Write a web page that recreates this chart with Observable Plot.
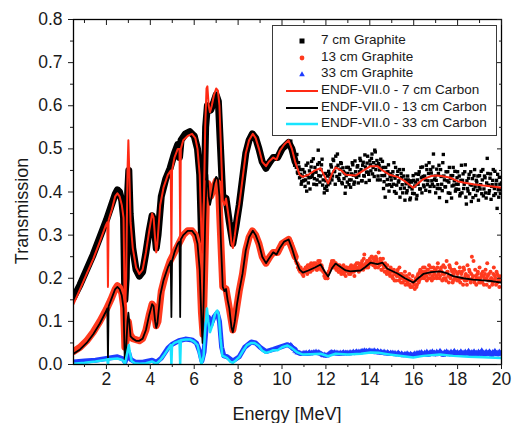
<!DOCTYPE html>
<html><head><meta charset="utf-8">
<script src="https://cdn.jsdelivr.net/npm/d3@7"></script>
<script src="https://cdn.jsdelivr.net/npm/@observablehq/plot@0.6"></script>
<style>
body{margin:0;background:#fff;}
#wrap{position:relative;width:512px;height:423px;font-family:"Liberation Sans",Arial,sans-serif;color:#1a1a1a;}
.title{position:absolute;font-size:18px;white-space:nowrap;transform:translate(-50%,-50%);}
#legend{position:absolute;left:272px;top:25px;width:225px;height:111px;border:1px solid #3a3a3a;background:#fff;box-sizing:border-box;}
.row{position:absolute;left:0;height:16px;width:224px;}
.row svg{position:absolute;left:0;top:0;}
.row span{position:absolute;left:48px;top:-1px;font-size:13.5px;line-height:16px;white-space:nowrap;}
</style></head>
<body><div id="wrap"></div>
<script>
// ---- data ----
const xMajor = [2,4,6,8,10,12,14,16,18,20];
const xMinor = [1,3,5,7,9,11,13,15,17,19];
const yMajor = [0,0.1,0.2,0.3,0.4,0.5,0.6,0.7,0.8];
const yMinor = [0.05,0.15,0.25,0.35,0.45,0.55,0.65,0.75];

// ENDF-VII.0 calculations [energy MeV, transmission]
const endf7 = [[0.5,0.14],[0.8,0.175],[1.1,0.21],[1.4,0.245],[1.7,0.285],[1.95,0.32],[2.04,0.33],[2.07,0.18],[2.1,0.335],[2.25,0.36],[2.4,0.39],[2.5,0.397],[2.6,0.39],[2.7,0.37],[2.78,0.34],[2.84,0.1],[2.9,0.2],[2.96,0.45],[3.0,0.52],[3.04,0.45],[3.1,0.33],[3.2,0.27],[3.35,0.225],[3.5,0.21],[3.65,0.22],[3.8,0.26],[3.95,0.31],[4.08,0.35],[4.15,0.34],[4.22,0.29],[4.27,0.26],[4.32,0.28],[4.45,0.37],[4.6,0.41],[4.8,0.44],[4.93,0.45],[4.96,0.26],[4.99,0.45],[5.1,0.48],[5.25,0.5],[5.33,0.5],[5.36,0.3],[5.39,0.5],[5.5,0.52],[5.7,0.53],[5.9,0.535],[6.05,0.525],[6.15,0.5],[6.25,0.44],[6.33,0.3],[6.38,0.26],[6.43,0.35],[6.5,0.55],[6.56,0.64],[6.6,0.645],[6.66,0.6],[6.72,0.585],[6.8,0.6],[6.9,0.625],[7.0,0.64],[7.08,0.635],[7.15,0.6],[7.22,0.5],[7.3,0.38],[7.38,0.37],[7.45,0.385],[7.52,0.36],[7.6,0.33],[7.7,0.28],[7.76,0.27],[7.85,0.3],[7.95,0.34],[8.05,0.37],[8.2,0.43],[8.35,0.49],[8.5,0.52],[8.67,0.535],[8.8,0.525],[8.95,0.5],[9.1,0.47],[9.27,0.46],[9.4,0.47],[9.6,0.48],[9.75,0.475],[9.9,0.495],[10.1,0.51],[10.3,0.52],[10.45,0.5],[10.6,0.47],[10.8,0.44],[10.95,0.435],[11.2,0.44],[11.5,0.45],[11.76,0.455],[11.95,0.435],[12.1,0.42],[12.3,0.445],[12.44,0.457],[12.7,0.45],[12.9,0.44],[13.35,0.438],[13.72,0.45],[14.03,0.46],[14.35,0.46],[14.58,0.45],[14.9,0.44],[15.26,0.435],[15.6,0.425],[15.98,0.41],[16.2,0.42],[16.44,0.43],[16.8,0.437],[17.07,0.438],[17.4,0.436],[17.67,0.433],[18.0,0.425],[18.26,0.422],[18.7,0.418],[19.17,0.415],[19.6,0.413],[20,0.41]];

const endf13 = [[0.5,0.025],[0.8,0.035],[1.1,0.05],[1.4,0.07],[1.7,0.095],[1.95,0.12],[2.04,0.13],[2.07,0.01],[2.1,0.135],[2.25,0.155],[2.4,0.175],[2.5,0.18],[2.6,0.175],[2.7,0.16],[2.78,0.13],[2.84,0.003],[2.9,0.04],[2.96,0.1],[3.0,0.12],[3.04,0.1],[3.1,0.065],[3.2,0.06],[3.35,0.055],[3.5,0.055],[3.65,0.06],[3.8,0.08],[3.95,0.115],[4.08,0.14],[4.15,0.135],[4.22,0.1],[4.27,0.085],[4.32,0.095],[4.45,0.16],[4.6,0.195],[4.8,0.225],[4.93,0.24],[4.96,0.11],[4.99,0.24],[5.1,0.26],[5.25,0.28],[5.33,0.285],[5.36,0.11],[5.39,0.29],[5.5,0.3],[5.7,0.31],[5.9,0.31],[6.05,0.3],[6.15,0.28],[6.25,0.22],[6.33,0.1],[6.38,0.05],[6.43,0.15],[6.5,0.33],[6.56,0.43],[6.6,0.44],[6.66,0.39],[6.72,0.37],[6.8,0.39],[6.9,0.42],[7.0,0.435],[7.08,0.43],[7.15,0.39],[7.22,0.28],[7.3,0.18],[7.38,0.17],[7.45,0.175],[7.52,0.15],[7.6,0.13],[7.7,0.085],[7.76,0.075],[7.85,0.1],[7.95,0.14],[8.05,0.17],[8.2,0.21],[8.35,0.265],[8.5,0.295],[8.67,0.31],[8.8,0.3],[8.95,0.28],[9.1,0.25],[9.27,0.235],[9.4,0.245],[9.6,0.26],[9.75,0.255],[9.9,0.27],[10.1,0.285],[10.3,0.29],[10.45,0.27],[10.6,0.245],[10.8,0.22],[10.95,0.213],[11.2,0.218],[11.5,0.225],[11.76,0.232],[11.95,0.215],[12.1,0.204],[12.3,0.225],[12.44,0.234],[12.7,0.225],[12.9,0.218],[13.12,0.216],[13.58,0.218],[13.8,0.226],[14.03,0.236],[14.35,0.233],[14.58,0.236],[14.8,0.222],[15.26,0.211],[15.6,0.2],[15.98,0.19],[16.2,0.2],[16.44,0.21],[16.8,0.214],[17.2,0.216],[17.5,0.212],[17.8,0.205],[18.26,0.2],[18.7,0.197],[19.17,0.195],[19.6,0.193],[20,0.19]];

const endf33 = [[0.5,0.002],[1.0,0.004],[1.5,0.007],[2.0,0.011],[2.04,0.012],[2.07,0.0],[2.1,0.012],[2.5,0.014],[2.7,0.011],[2.78,0.008],[2.84,0.0],[2.96,0.03],[3.02,0.045],[3.06,0.03],[3.15,0.008],[3.3,0.003],[3.5,0.002],[3.8,0.003],[4.08,0.007],[4.2,0.004],[4.27,0.002],[4.45,0.01],[4.6,0.02],[4.8,0.035],[4.93,0.045],[4.96,0.0],[4.99,0.045],[5.1,0.05],[5.33,0.055],[5.36,0.0],[5.39,0.056],[5.6,0.058],[5.8,0.058],[6.0,0.053],[6.15,0.045],[6.25,0.02],[6.33,0.0],[6.43,0.02],[6.5,0.08],[6.58,0.13],[6.64,0.1],[6.72,0.075],[6.82,0.09],[6.95,0.118],[7.05,0.125],[7.12,0.115],[7.2,0.06],[7.28,0.02],[7.4,0.018],[7.5,0.015],[7.65,0.006],[7.76,0.004],[7.9,0.01],[8.05,0.017],[8.2,0.03],[8.4,0.045],[8.6,0.05],[8.75,0.05],[8.95,0.043],[9.1,0.032],[9.27,0.027],[9.45,0.03],[9.6,0.033],[9.8,0.033],[10.0,0.04],[10.25,0.044],[10.45,0.038],[10.7,0.028],[10.95,0.023],[11.3,0.024],[11.76,0.025],[12.1,0.019],[12.44,0.025],[13.0,0.023],[13.6,0.025],[14.03,0.028],[14.4,0.027],[14.8,0.024],[15.26,0.021],[15.98,0.016],[16.44,0.02],[17.2,0.023],[17.8,0.02],[18.5,0.018],[19.17,0.017],[20,0.015]];

// Measured graphite, densely sampled region below ~10.6 MeV [energy, transmission]
const meas7Low = [[0.5,0.155],[0.8,0.185],[1.1,0.22],[1.4,0.255],[1.7,0.295],[2.0,0.335],[2.2,0.365],[2.4,0.395],[2.5,0.405],[2.6,0.4],[2.7,0.38],[2.78,0.34],[2.84,0.15],[2.9,0.2],[2.97,0.4],[3.02,0.45],[3.08,0.35],[3.2,0.27],[3.35,0.22],[3.5,0.205],[3.65,0.215],[3.8,0.26],[3.95,0.31],[4.08,0.345],[4.15,0.335],[4.27,0.27],[4.35,0.3],[4.5,0.39],[4.7,0.43],[4.9,0.455],[5.1,0.49],[5.25,0.51],[5.33,0.48],[5.4,0.52],[5.6,0.535],[5.8,0.54],[6.0,0.53],[6.15,0.5],[6.25,0.44],[6.33,0.3],[6.4,0.27],[6.45,0.38],[6.52,0.55],[6.6,0.6],[6.75,0.59],[6.9,0.61],[7.0,0.625],[7.1,0.61],[7.2,0.5],[7.3,0.39],[7.45,0.385],[7.6,0.33],[7.76,0.28],[7.9,0.32],[8.05,0.37],[8.2,0.43],[8.35,0.49],[8.5,0.52],[8.65,0.535],[8.8,0.525],[8.95,0.5],[9.1,0.47],[9.27,0.455],[9.45,0.47],[9.6,0.48],[9.8,0.48],[10.0,0.5],[10.3,0.515],[10.45,0.5],[10.6,0.47]];
const meas13Low = [[0.5,0.03],[0.8,0.04],[1.1,0.055],[1.4,0.075],[1.7,0.1],[2.0,0.128],[2.2,0.15],[2.4,0.175],[2.5,0.183],[2.6,0.178],[2.7,0.165],[2.78,0.135],[2.84,0.04],[2.92,0.06],[3.0,0.1],[3.08,0.07],[3.2,0.06],[3.5,0.055],[3.65,0.06],[3.8,0.08],[3.95,0.115],[4.08,0.14],[4.15,0.135],[4.27,0.09],[4.35,0.1],[4.5,0.17],[4.7,0.21],[4.9,0.24],[5.1,0.26],[5.3,0.28],[5.5,0.3],[5.7,0.31],[5.9,0.31],[6.05,0.3],[6.15,0.28],[6.25,0.22],[6.33,0.12],[6.4,0.07],[6.47,0.2],[6.55,0.37],[6.62,0.42],[6.75,0.39],[6.9,0.41],[7.0,0.425],[7.1,0.42],[7.2,0.3],[7.3,0.18],[7.45,0.175],[7.6,0.13],[7.76,0.08],[7.9,0.12],[8.05,0.17],[8.2,0.21],[8.35,0.265],[8.5,0.295],[8.65,0.31],[8.8,0.3],[8.95,0.28],[9.1,0.25],[9.27,0.235],[9.45,0.25],[9.6,0.26],[9.8,0.26],[10.0,0.28],[10.3,0.29],[10.45,0.27],[10.6,0.25]];
const meas33Low = [[0.5,0.006],[1.0,0.008],[1.5,0.01],[2.0,0.014],[2.5,0.018],[2.75,0.013],[2.85,0.006],[3.0,0.03],[3.1,0.012],[3.3,0.006],[3.6,0.005],[4.08,0.01],[4.27,0.005],[4.5,0.015],[4.8,0.038],[5.0,0.047],[5.3,0.055],[5.6,0.059],[5.9,0.057],[6.1,0.05],[6.25,0.03],[6.35,0.008],[6.45,0.03],[6.55,0.09],[6.65,0.11],[6.75,0.09],[6.9,0.11],[7.05,0.12],[7.15,0.1],[7.25,0.04],[7.35,0.02],[7.5,0.018],[7.76,0.008],[8.05,0.018],[8.3,0.04],[8.6,0.052],[8.8,0.05],[9.0,0.04],[9.27,0.03],[9.6,0.035],[9.9,0.04],[10.25,0.046],[10.6,0.035]];

// Measured graphite above 10.4 MeV: energies and transmissions (two interleaved energy grids)
const energyHi = [10.40,10.45,10.50,10.55,10.60,10.65,10.70,10.75,10.80,10.85,10.90,10.95,
11.00,11.05,11.10,11.15,11.20,11.25,11.30,11.35,11.40,11.45,11.50,11.55,11.60,11.65,11.70,11.75,11.80,11.85,11.90,11.95,
12.00,12.05,12.10,12.15,12.20,12.25,12.30,12.35,12.40,12.45,12.50,12.55,12.60,12.65,12.70,12.75,12.80,12.85,12.90,12.95,
13.00,13.05,13.10,13.15,13.20,13.25,13.30,13.35,13.40,13.45,13.50,13.55,13.60,13.65,13.70,13.75,13.80,13.85,13.90,13.95,
14.00,14.05,14.10,14.15,14.20,14.25,14.30,14.35,14.40,14.45,14.50,14.55,14.60,14.65,14.70,14.75,14.80,14.85,14.90,14.95,
15.00,15.05,15.10,15.15,15.20,15.25,15.30,15.35,15.40,15.45,15.50,15.55,15.60,15.65,15.70,15.75,15.80,15.85,15.90,15.95,
16.00,16.05,16.10,16.15,16.20,16.25,16.30,16.35,16.40,16.45,16.50,16.55,16.60,16.65,16.70,16.75,16.80,16.85,16.90,16.95,
17.00,17.05,17.10,17.15,17.20,17.25,17.30,17.35,17.40,17.45,17.50,17.55,17.60,17.65,17.70,17.75,17.80,17.85,17.90,17.95,
18.00,18.05,18.10,18.15,18.20,18.25,18.30,18.35,18.40,18.45,18.50,18.55,18.60,18.65,18.70,18.75,18.80,18.85,18.90,18.95,
19.00,19.05,19.10,19.15,19.20,19.25,19.30,19.35,19.40,19.45,19.50,19.55,19.60,19.65,19.70,19.75,19.80,19.85,19.90,19.95,
20.00];
const energyHi2 = [10.425,10.475,10.525,10.575,10.625,10.675,10.725,10.775,10.825,10.875,10.925,10.975,
11.025,11.075,11.125,11.175,11.225,11.275,11.325,11.375,11.425,11.475,11.525,11.575,11.625,11.675,11.725,11.775,11.825,11.875,11.925,11.975,
12.025,12.075,12.125,12.175,12.225,12.275,12.325,12.375,12.425,12.475,12.525,12.575,12.625,12.675,12.725,12.775,12.825,12.875,12.925,12.975,
13.025,13.075,13.125,13.175,13.225,13.275,13.325,13.375,13.425,13.475,13.525,13.575,13.625,13.675,13.725,13.775,13.825,13.875,13.925,13.975,
14.025,14.075,14.125,14.175,14.225,14.275,14.325,14.375,14.425,14.475,14.525,14.575,14.625,14.675,14.725,14.775,14.825,14.875,14.925,14.975,
15.025,15.075,15.125,15.175,15.225,15.275,15.325,15.375,15.425,15.475,15.525,15.575,15.625,15.675,15.725,15.775,15.825,15.875,15.925,15.975,
16.025,16.075,16.125,16.175,16.225,16.275,16.325,16.375,16.425,16.475,16.525,16.575,16.625,16.675,16.725,16.775,16.825,16.875,16.925,16.975,
17.025,17.075,17.125,17.175,17.225,17.275,17.325,17.375,17.425,17.475,17.525,17.575,17.625,17.675,17.725,17.775,17.825,17.875,17.925,17.975,
18.025,18.075,18.125,18.175,18.225,18.275,18.325,18.375,18.425,18.475,18.525,18.575,18.625,18.675,18.725,18.775,18.825,18.875,18.925,18.975,
19.025,19.075,19.125,19.175,19.225,19.275,19.325,19.375,19.425,19.475,19.525,19.575,19.625,19.675,19.725,19.775,19.825,19.875,19.925,19.975];
const meas7Hi = [.518,.503,.487,.472,.481,.457,.446,.468,.433,.441,.424,.452,
.427,.413,.462,.438,.421,.449,.434,.471,.443,.418,.457,.446,.428,.497,.468,.437,.463,.416,.442,.408,
.426,.404,.417,.441,.432,.458,.437,.473,.448,.483,.436,.462,.427,.453,.466,.419,.447,.444,.412,.457,
.443,.417,.452,.428,.468,.439,.423,.447,.434,.461,.438,.478,.452,.426,.469,.437,.458,.446,.483,.441,
.472,.449,.488,.457,.436,.493,.462,.428,.466,.451,.476,.438,.457,.424,.388,.446,.429,.463,.417,.442,
.413,.447,.468,.432,.397,.438,.423,.452,.408,.434,.398,.437,.381,.419,.403,.428,.412,.386,.423,.397,
.427,.414,.442,.392,.418,.447,.407,.433,.458,.416,.437,.404,.452,.426,.468,.413,.444,.418,.488,.429,
.398,.453,.417,.462,.408,.436,.403,.487,.428,.412,.378,.447,.423,.397,.438,.414,.457,.426,.402,.418,
.447,.406,.391,.427,.398,.442,.418,.463,.372,.408,.432,.396,.447,.416,.387,.438,.412,.427,.403,.381,
.438,.417,.396,.452,.407,.433,.386,.478,.416,.403,.442,.413,.427,.392,.448,.418,.362,.406,.434,.397,
.421];
const meas7Hi2 = [.507,.483,.496,.462,.474,.487,.443,.458,.452,.418,.437,.426,
.446,.428,.402,.467,.433,.407,.458,.436,.477,.431,.447,.417,.464,.438,.423,.452,.476,.428,.398,.443,
.413,.437,.448,.421,.463,.428,.476,.447,.418,.457,.488,.432,.441,.468,.422,.456,.431,.397,.438,.423,
.457,.428,.411,.442,.463,.418,.472,.437,.458,.421,.447,.473,.426,.462,.438,.486,.422,.467,.446,.427,
.463,.478,.442,.468,.497,.452,.473,.437,.461,.428,.453,.471,.408,.438,.457,.416,.447,.402,.436,.428,
.437,.418,.401,.457,.416,.448,.426,.388,.443,.417,.452,.409,.428,.398,.437,.421,.382,.426,.407,.438,
.396,.423,.384,.428,.441,.407,.457,.398,.436,.412,.428,.462,.417,.443,.401,.452,.426,.458,.413,.437,
.427,.408,.443,.387,.452,.418,.468,.437,.412,.447,.426,.398,.457,.432,.386,.438,.416,.448,.407,.433,
.418,.437,.396,.462,.427,.408,.447,.388,.426,.402,.441,.417,.378,.431,.406,.452,.392,.423,.437,.412,
.407,.448,.428,.391,.437,.398,.421,.443,.397,.432,.383,.417,.452,.408,.396,.427,.441,.388,.418,.406];
const meas13Hi = [.285,.28,.27,.26,.25,.245,.235,.23,.22,.225,.215,.21,
.22,.215,.225,.21,.22,.23,.215,.225,.22,.235,.225,.23,.22,.24,.235,.225,.23,.22,.215,.21,
.205,.2,.21,.215,.225,.235,.23,.24,.225,.235,.22,.23,.215,.225,.21,.22,.23,.215,.205,.225,
.22,.21,.225,.23,.215,.22,.205,.225,.235,.22,.215,.23,.225,.24,.22,.255,.23,.225,.24,.23,
.245,.235,.25,.23,.24,.225,.245,.235,.26,.23,.24,.22,.245,.225,.235,.215,.23,.22,.21,.225,
.215,.2,.22,.21,.195,.215,.205,.225,.2,.21,.19,.205,.215,.195,.2,.185,.21,.18,.195,.205,
.19,.175,.2,.185,.21,.195,.22,.2,.215,.205,.225,.21,.195,.22,.23,.2,.215,.205,.225,.21,
.22,.2,.235,.215,.205,.225,.195,.23,.21,.2,.24,.215,.19,.225,.205,.215,.195,.22,.2,.235,
.21,.195,.225,.2,.215,.185,.22,.205,.195,.23,.2,.215,.19,.25,.205,.195,.22,.185,.21,.2,
.225,.19,.205,.215,.185,.21,.2,.235,.195,.18,.215,.2,.19,.225,.205,.185,.21,.195,.18,.2,
.205];
const meas13Hi2 = [.28,.275,.265,.255,.24,.235,.225,.22,.215,.22,.21,.205,
.215,.225,.22,.23,.215,.225,.235,.22,.23,.225,.235,.22,.23,.225,.24,.22,.225,.215,.205,.2,
.21,.2,.215,.22,.23,.24,.225,.23,.235,.22,.225,.215,.23,.22,.215,.225,.21,.22,.225,.215,
.215,.225,.21,.22,.225,.215,.23,.22,.225,.235,.225,.22,.235,.23,.245,.225,.235,.24,.225,.235,
.24,.25,.235,.245,.23,.25,.24,.225,.235,.245,.22,.235,.23,.215,.225,.21,.22,.215,.205,.22,
.205,.215,.195,.21,.205,.22,.195,.21,.19,.205,.2,.195,.185,.205,.19,.2,.185,.195,.18,.19,
.185,.195,.18,.205,.19,.215,.2,.21,.225,.2,.215,.205,.22,.2,.21,.225,.195,.215,.2,.22,
.205,.225,.21,.2,.22,.215,.21,.2,.225,.195,.215,.205,.23,.2,.22,.19,.21,.2,.215,.195,
.2,.215,.19,.21,.2,.225,.195,.21,.185,.205,.22,.195,.21,.2,.24,.19,.205,.2,.215,.19,
.2,.21,.19,.205,.2,.22,.185,.205,.21,.195,.2,.185,.21,.195,.2,.215,.19,.205,.2,.195];
const meas33Hi = [.045,.042,.038,.035,.032,.03,.028,.027,.026,.025,.024,.025,
.026,.025,.027,.024,.026,.028,.025,.027,.026,.028,.027,.029,.026,.028,.027,.025,.024,.022,.021,.022,
.02,.021,.023,.025,.027,.028,.027,.026,.028,.025,.027,.026,.024,.027,.025,.026,.028,.025,.027,.026,
.027,.025,.028,.026,.027,.029,.026,.028,.03,.027,.029,.028,.03,.031,.029,.032,.03,.031,.029,.031,
.032,.03,.031,.029,.032,.03,.028,.031,.029,.027,.03,.028,.026,.029,.027,.025,.028,.026,.024,.027,
.025,.027,.024,.026,.023,.025,.027,.024,.022,.025,.023,.021,.024,.022,.025,.023,.02,.024,.022,.021,
.023,.025,.021,.026,.024,.027,.022,.028,.025,.023,.027,.024,.029,.022,.026,.028,.024,.03,.025,.027,
.023,.029,.026,.024,.031,.027,.025,.022,.028,.026,.03,.024,.027,.023,.029,.025,.027,.031,.024,.026,
.028,.023,.026,.03,.024,.027,.022,.029,.025,.027,.031,.024,.026,.028,.023,.03,.025,.027,.022,.029,
.026,.024,.032,.025,.027,.023,.029,.026,.024,.03,.027,.022,.028,.025,.031,.024,.027,.023,.029,.026,
.025];

const seriesNames = ["7 cm Graphite","13 cm Graphite","33 cm Graphite","ENDF-VII.0 - 7 cm Carbon","ENDF-VII.0 - 13 cm Carbon","ENDF-VII.0 - 33 cm Carbon"];

// ---- styles ----
const C_BLACK = "#000000", C_RED = "#ff3a1e", C_REDLINE = "#ff2a14", C_BLUE = "#1e3cff", C_CYAN = "#18e4ff";
const X = d => d[0], Y = d => d[1];
const pair = (xs, ys) => xs.map((e, i) => [e, ys[i]]);
const hi7 = pair(energyHi, meas7Hi).concat(pair(energyHi2, meas7Hi2));
const hi13 = pair(energyHi, meas13Hi).concat(pair(energyHi2, meas13Hi2));
const hi33 = pair(energyHi, meas33Hi);
const blank = () => "";

const plot = Plot.plot({
  width: 512, height: 423,
  marginLeft: 73, marginRight: 11, marginTop: 19, marginBottom: 59,
  style: {fontFamily: '"Liberation Sans", Arial, sans-serif', fontSize: "17.5px", color: "#1a1a1a", background: "#fff"},
  x: {domain: [0.5, 20]},
  y: {domain: [0, 0.8]},
  marks: [
    // measured 7 cm
    Plot.line(meas7Low, {x: X, y: Y, stroke: C_BLACK, strokeWidth: 7, strokeLinejoin: "round", clip: true}),
    Plot.dot(meas7Low, {x: X, y: Y, symbol: "square", fill: C_BLACK, r: 2.6, clip: true}),
    Plot.dot(hi7, {x: X, y: Y, symbol: "square", fill: C_BLACK, r: 1.9, clip: true}),
    // measured 13 cm
    Plot.line(meas13Low, {x: X, y: Y, stroke: C_RED, strokeWidth: 7, strokeLinejoin: "round", clip: true}),
    Plot.dot(meas13Low, {x: X, y: Y, fill: C_RED, r: 2.4, clip: true}),
    Plot.dot(hi13, {x: X, y: Y, fill: C_RED, r: 2.0, clip: true}),
    // measured 33 cm
    Plot.line(meas33Low, {x: X, y: Y, stroke: C_BLUE, strokeWidth: 5, strokeLinejoin: "round", clip: true}),
    Plot.line(hi33, {x: X, y: Y, stroke: C_BLUE, strokeWidth: 3.5, strokeLinejoin: "round", clip: true}),
    Plot.dot(hi33, {x: X, y: Y, symbol: "triangle", fill: C_BLUE, r: 2.2, clip: true}),
    // ENDF lines
    Plot.line(endf7, {x: X, y: Y, stroke: C_REDLINE, strokeWidth: 2, clip: true}),
    Plot.line(endf13, {x: X, y: Y, stroke: C_BLACK, strokeWidth: 1.8, clip: true}),
    Plot.line(endf33, {x: X, y: Y, stroke: C_CYAN, strokeWidth: 2.5, clip: true}),
    Plot.frame({stroke: "#000", strokeWidth: 1.3}),
    // axes
    Plot.axisX(xMajor, {tickSize: 5, tickPadding: 3, tickFormat: d => String(d), label: null}),
    Plot.axisX(xMinor, {tickSize: 3, tickFormat: blank, label: null}),
    Plot.axisX(xMajor, {anchor: "top", tickSize: 5, dy: 5, tickFormat: blank, label: null}),
    Plot.axisX(xMinor, {anchor: "top", tickSize: 3, dy: 3, tickFormat: blank, label: null}),
    Plot.axisY(yMajor, {tickSize: 5, tickPadding: 6, tickFormat: d3.format(".1f"), label: null}),
    Plot.axisY(yMinor, {tickSize: 3, tickFormat: blank, label: null}),
    Plot.axisY(yMajor, {anchor: "right", tickSize: 5, dx: -5, tickFormat: blank, label: null}),
    Plot.axisY(yMinor, {anchor: "right", tickSize: 3, dx: -3, tickFormat: blank, label: null})
  ]
});

const wrap = document.getElementById("wrap");
wrap.appendChild(plot);

// axis titles
const xt = document.createElement("div");
xt.className = "title"; xt.textContent = "Energy [MeV]";
xt.style.left = "287px"; xt.style.top = "414px";
wrap.appendChild(xt);
const yt = document.createElement("div");
yt.className = "title"; yt.textContent = "Transmission";
yt.style.left = "22px"; yt.style.top = "211px";
yt.style.transform = "translate(-50%,-50%) rotate(-90deg)";
wrap.appendChild(yt);

// legend
const legend = document.createElement("div");
legend.id = "legend";
const rowTops = [7, 24, 40, 57, 74, 90];
const symbols = [
  '<rect x="26.5" y="5.5" width="5" height="5" fill="'+C_BLACK+'"/>',
  '<circle cx="29" cy="8" r="2.4" fill="'+C_RED+'"/>',
  '<path d="M29,5.2 L31.8,10.2 L26.2,10.2 Z" fill="'+C_BLUE+'"/>',
  '<line x1="13" x2="45" y1="8" y2="8" stroke="'+C_REDLINE+'" stroke-width="2"/>',
  '<line x1="13" x2="45" y1="8" y2="8" stroke="'+C_BLACK+'" stroke-width="2"/>',
  '<line x1="13" x2="45" y1="8" y2="8" stroke="'+C_CYAN+'" stroke-width="2.5"/>'
];
seriesNames.forEach((name, i) => {
  const r = document.createElement("div");
  r.className = "row"; r.style.top = rowTops[i] + "px";
  r.innerHTML = '<svg width="48" height="16">' + symbols[i] + '</svg><span>' + name + '</span>';
  legend.appendChild(r);
});
wrap.appendChild(legend);
</script>
</body></html>
